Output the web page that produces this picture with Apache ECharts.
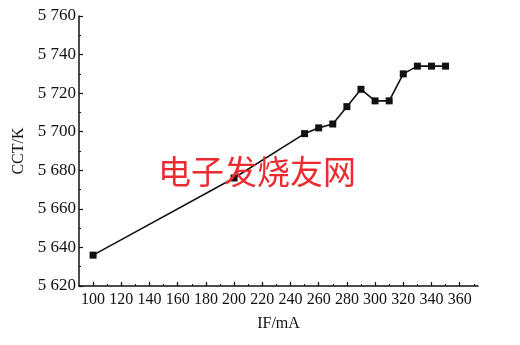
<!DOCTYPE html>
<html>
<head>
<meta charset="utf-8">
<title>CCT - IF</title>
<script src="https://cdn.jsdelivr.net/npm/echarts@6/dist/echarts.min.js"></script>
<style>
    html, body { margin: 0; padding: 0; background: #fff; }
    #main { width: 520px; height: 345px; }
</style>
</head>
<body>
<div id="main"></div>
<script>
// 电流 IF (mA)
var current = [100, 200, 250, 260, 270, 280, 290, 300, 310, 320, 330, 340, 350];
// 色温 CCT (K)
var cct = [5636, 5676, 5699, 5702, 5704, 5713, 5722, 5716, 5716, 5730, 5734, 5734, 5734];
// 刻度
var xMajor = [100, 120, 140, 160, 180, 200, 220, 240, 260, 280, 300, 320, 340, 360];
var xMinor = [110, 130, 150, 170, 190, 210, 230, 250, 270, 290, 310, 330, 350, 370];

var font = '"Liberation Serif", "DejaVu Serif", serif';
var points = [];
for (var i = 0; i < current.length; i++) {
    points.push([current[i], cct[i]]);
}

var myChart = echarts.init(document.getElementById('main'));
var option = {
    animation: false,
    backgroundColor: '#fff',
    grid: {left: 79, top: 16, right: 42, bottom: 59},
    xAxis: [{
        type: 'value', min: 90, max: 373, position: 'bottom',
        name: 'IF/mA', nameLocation: 'middle', nameGap: 30,
        nameTextStyle: {color: '#111', fontFamily: font, fontSize: 16},
        axisLine: {lineStyle: {color: '#111', width: 1.5}},
        axisTick: {inside: true, length: 4, customValues: xMajor, lineStyle: {color: '#111', width: 1.2}},
        axisLabel: {customValues: xMajor, color: '#111', fontFamily: font, fontSize: 16, margin: 6},
        splitLine: {show: false}
    }, {
        type: 'value', min: 90, max: 373, position: 'bottom',
        axisLine: {show: false},
        axisTick: {inside: true, length: 2, customValues: xMinor, lineStyle: {color: '#111', width: 1}},
        axisLabel: {show: false},
        splitLine: {show: false}
    }],
    yAxis: {
        type: 'value', min: 5620, max: 5760, interval: 20,
        name: 'CCT/K', nameLocation: 'middle', nameGap: 46, nameRotate: 90,
        nameTextStyle: {color: '#111', fontFamily: font, fontSize: 16},
        axisLine: {show: true, lineStyle: {color: '#111', width: 1.5}},
        axisTick: {show: true, inside: true, length: 4, lineStyle: {color: '#111', width: 1.2}},
        minorTick: {show: true, splitNumber: 2, length: 2, lineStyle: {color: '#111', width: 1}},
        axisLabel: {
            color: '#111', fontFamily: font, fontSize: 17, margin: 3,
            formatter: function (v) {
                var s = String(v);
                return s.charAt(0) + ' ' + s.slice(1);
            }
        },
        splitLine: {show: false}
    },
    graphic: [{
        type: 'text', left: 158, top: 155,
        style: {
            text: '电子发烧友网', fill: '#ec2a30',
            font: '33px "Noto Sans CJK SC"'
        },
        z: 10
    }],
    series: [{
        type: 'line', data: points,
        symbol: 'rect', symbolSize: 7,
        lineStyle: {color: '#111', width: 1.6},
        itemStyle: {color: '#111'},
        z: 5
    }]
};
myChart.setOption(option);
</script>
</body>
</html>
